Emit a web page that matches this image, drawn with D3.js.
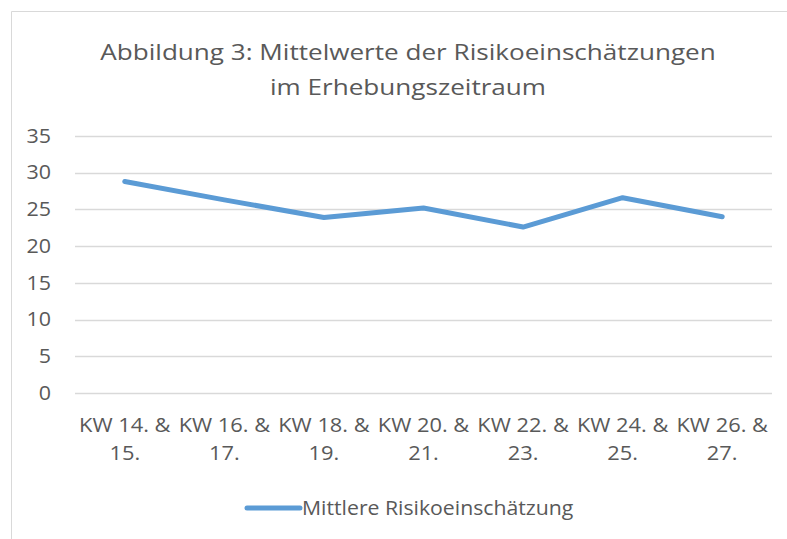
<!DOCTYPE html>
<html lang="de">
<head>
<meta charset="UTF-8">
<title>Abbildung 3</title>
<script src="https://cdn.jsdelivr.net/npm/d3@7"></script>
<style>
  body { margin: 0; background: #fff; }
  text { font-family: "Open Sans", sans-serif; fill: #595959; }
</style>
</head>
<body>
<script>
// Daten
var categories = ['KW 14. & 15.', 'KW 16. & 17.', 'KW 18. & 19.', 'KW 20. & 21.', 'KW 22. & 23.', 'KW 24. & 25.', 'KW 26. & 27.']
var values = [28.8, 26.3, 23.9, 25.2, 22.6, 26.6, 24.0]
var yTicks = [0, 5, 10, 15, 20, 25, 30, 35]
var seriesName = 'Mittlere Risikoeinschätzung'
var titleLines = ['Abbildung 3: Mittelwerte der Risikoeinschätzungen', 'im Erhebungszeitraum']

var width = 787, height = 539
var plot = {left: 75, right: 772, top: 136, bottom: 393}
var lineColor = '#5b9bd5'

var svg = d3.select('body').append('svg')
    .attr('width', width)
    .attr('height', height)

// Rahmen (nur oben und links sichtbar)
svg.append('path')
    .attr('d', 'M11.5,' + height + ' V11.5 H' + width)
    .attr('fill', 'none')
    .attr('stroke', '#d9d9d9')
    .attr('stroke-width', 1)

var x = d3.scaleBand()
    .domain(categories)
    .range([plot.left, plot.right])
var y = d3.scaleLinear()
    .domain([0, 35])
    .range([plot.bottom, plot.top])

// Titel (leicht in die Breite gezogen wie im Original)
svg.append('g')
    .attr('transform', 'translate(408,60) scale(1.16,1)')
    .append('text')
    .attr('text-anchor', 'middle')
    .style('font-size', '22.5px')
    .selectAll('tspan')
    .data(titleLines)
    .enter()
    .append('tspan')
    .attr('x', 0)
    .attr('dy', (d, i) => i ? 35 : 0)
    .text(d => d)

// Gitterlinien
svg.append('g')
    .selectAll('line')
    .data(yTicks)
    .enter()
    .append('line')
    .attr('x1', plot.left)
    .attr('x2', plot.right)
    .attr('y1', d => Math.round(y(d)) + 0.5)
    .attr('y2', d => Math.round(y(d)) + 0.5)
    .attr('stroke', '#d9d9d9')
    .attr('stroke-width', 1.3)

// y-Achse
var yAxis = d3.axisLeft(y).tickValues(yTicks).tickSize(0).tickPadding(0)
var gy = svg.append('g')
    .attr('transform', 'translate(51,0)')
    .call(yAxis)
gy.select('.domain').remove()
gy.selectAll('text')
    .style('font-size', '19.5px')
    .style('font-family', '"Open Sans", sans-serif')
    .attr('fill', '#595959')
    .attr('transform', 'scale(1.1,1)')

// x-Achse (zweizeilige Beschriftung)
var xAxis = d3.axisBottom(x).tickSize(0).tickFormat('')
var gx = svg.append('g')
    .attr('transform', 'translate(0,' + plot.bottom + ')')
    .call(xAxis)
gx.select('.domain').remove()
gx.selectAll('.tick')
    .append('text')
    .attr('text-anchor', 'middle')
    .attr('transform', 'translate(0,39) scale(1.12,1)')
    .style('font-size', '19.5px')
    .selectAll('tspan')
    .data(d => {
        var parts = d.split('& ')
        return [parts[0] + '&', parts[1]]
    })
    .enter()
    .append('tspan')
    .attr('x', 0)
    .attr('dy', (d, i) => i ? 28.5 : 0)
    .text(d => d)

// Linie
var line = d3.line()
    .x((d, i) => x(categories[i]) + x.bandwidth() / 2)
    .y(d => y(d))

svg.append('path')
    .datum(values)
    .attr('d', line)
    .attr('fill', 'none')
    .attr('stroke', lineColor)
    .attr('stroke-width', 5)
    .attr('stroke-linecap', 'round')
    .attr('stroke-linejoin', 'round')

// Legende
var legend = svg.append('g').attr('transform', 'translate(245,508)')
legend.append('line')
    .attr('x1', 2).attr('x2', 55)
    .attr('stroke', lineColor)
    .attr('stroke-width', 5)
    .attr('stroke-linecap', 'round')
legend.append('text')
    .attr('transform', 'translate(57,7) scale(1.09,1)')
    .style('font-size', '19.5px')
    .text(seriesName)
</script>
</body>
</html>
